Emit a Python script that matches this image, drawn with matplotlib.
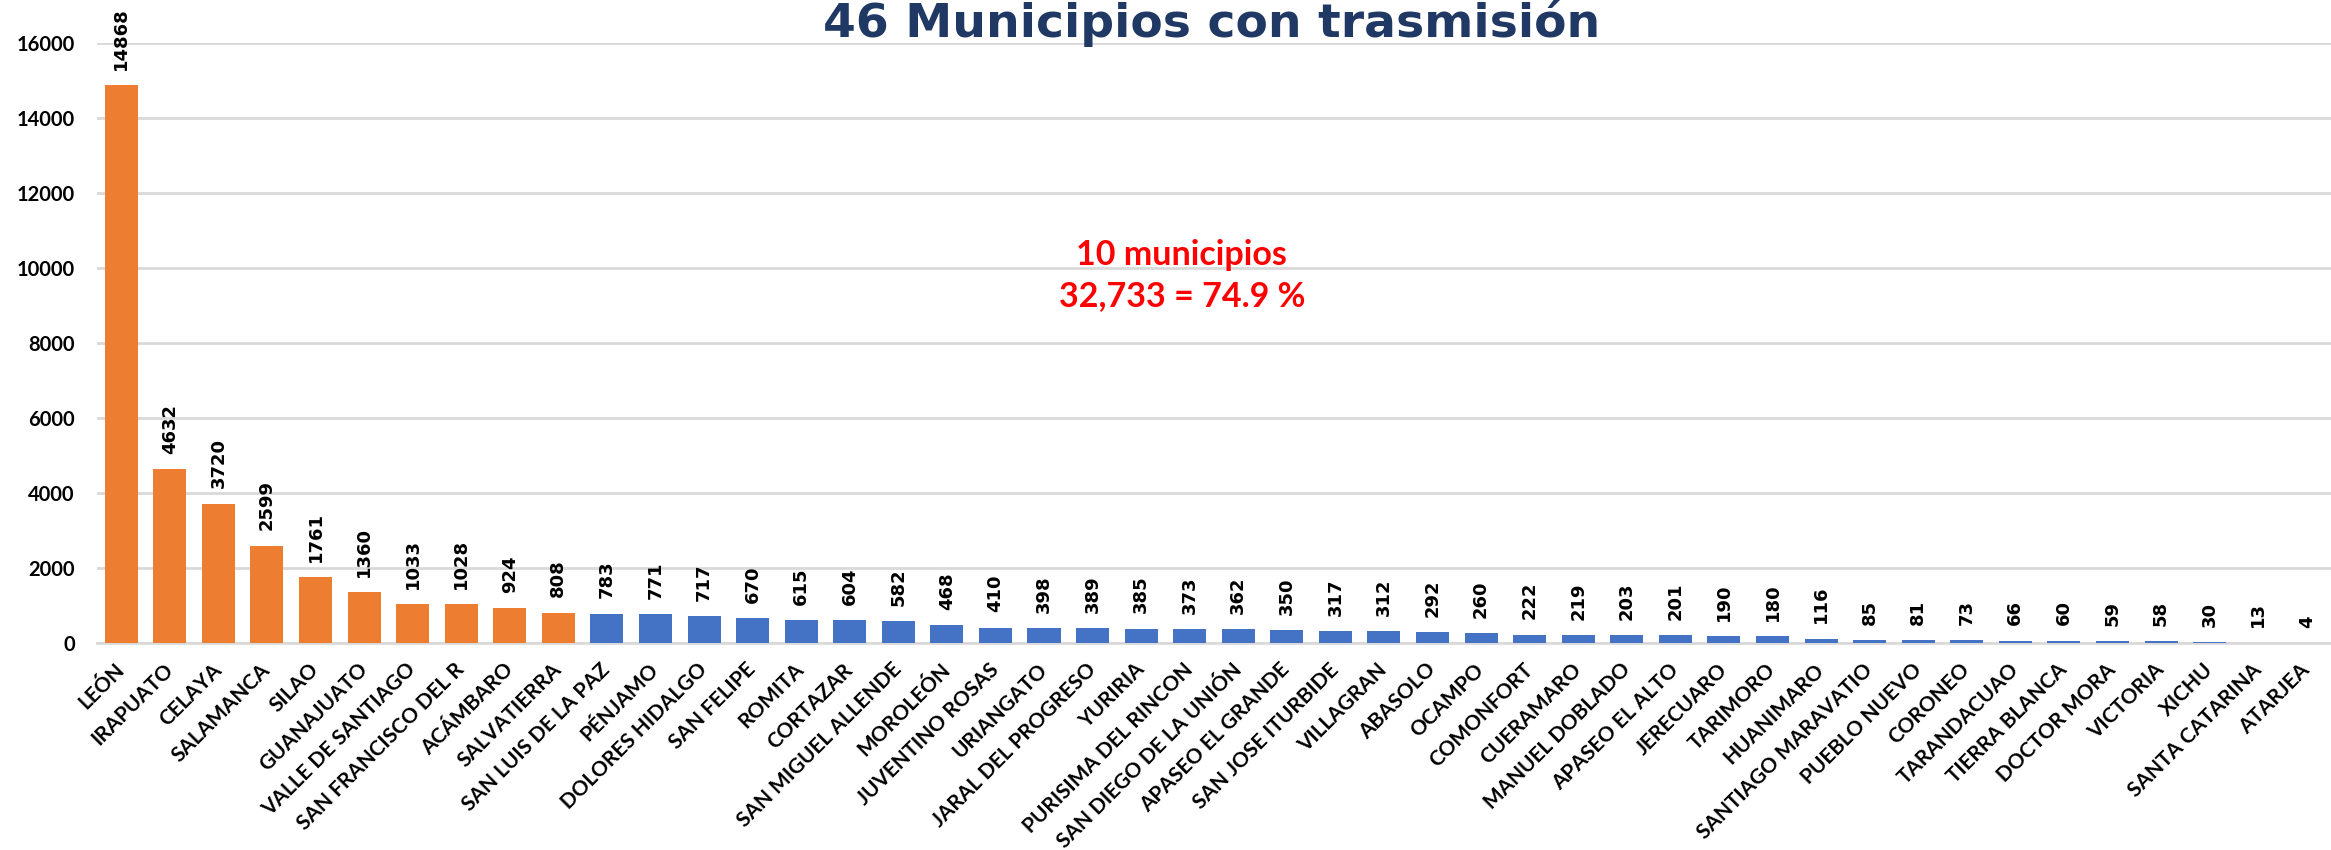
import matplotlib
matplotlib.use("Agg")
import matplotlib.pyplot as plt

municipios = ["LEÓN", "IRAPUATO", "CELAYA", "SALAMANCA", "SILAO", "GUANAJUATO",
              "VALLE DE SANTIAGO", "SAN FRANCISCO DEL R", "ACÁMBARO", "SALVATIERRA",
              "SAN LUIS DE LA PAZ", "PÉNJAMO", "DOLORES HIDALGO", "SAN FELIPE", "ROMITA",
              "CORTAZAR", "SAN MIGUEL ALLENDE", "MOROLEÓN", "JUVENTINO ROSAS", "URIANGATO",
              "JARAL DEL PROGRESO", "YURIRIA", "PURISIMA DEL RINCON", "SAN DIEGO DE LA UNIÓN",
              "APASEO EL GRANDE", "SAN JOSE ITURBIDE", "VILLAGRAN", "ABASOLO", "OCAMPO",
              "COMONFORT", "CUERAMARO", "MANUEL DOBLADO", "APASEO EL ALTO", "JERECUARO",
              "TARIMORO", "HUANIMARO", "SANTIAGO MARAVATIO", "PUEBLO NUEVO", "CORONEO",
              "TARANDACUAO", "TIERRA BLANCA", "DOCTOR MORA", "VICTORIA", "XICHU",
              "SANTA CATARINA", "ATARJEA"]
casos = [14868, 4632, 3720, 2599, 1761, 1360, 1033, 1028, 924, 808,
         783, 771, 717, 670, 615, 604, 582, 468, 410, 398,
         389, 385, 373, 362, 350, 317, 312, 292, 260, 222,
         219, 203, 201, 190, 180, 116, 85, 81, 73, 66,
         60, 59, 58, 30, 13, 4]
n_top = 10  # primeros 10 municipios en naranja
y_ticks = [0, 2000, 4000, 6000, 8000, 10000, 12000, 14000, 16000]

naranja = "#ED7D31"
azul = "#4472C4"
colores = [naranja if i < n_top else azul for i in range(len(casos))]

fig = plt.figure(figsize=(23.31, 8.5), dpi=100)
ax = fig.add_axes([0.0416, 0.2435, 0.9584, 0.7059])

x = list(range(len(casos)))
ax.bar(x, casos, width=0.68, color=colores, zorder=3)

# etiquetas de valor verticales
for xi, v in zip(x, casos):
    ax.annotate(str(v), (xi, v), xytext=(0, 11), textcoords="offset points",
                rotation=90, ha="center", va="bottom", fontsize=13,
                fontweight="bold", family="DejaVu Sans", color="black")

ax.set_xlim(-0.5, 45.5)
ax.set_ylim(0, 16000)
ax.set_yticks(y_ticks)
ax.set_yticklabels([str(t) for t in y_ticks], fontsize=14.5, fontweight="bold",
                   family="Lato")
ax.set_xticks(x)
ax.set_xticklabels(municipios, rotation=45, ha="right", va="center",
                   rotation_mode="anchor", fontsize=15, fontweight="bold", family="Lato")
ax.tick_params(axis="both", length=0)
ax.tick_params(axis="y", pad=16)
ax.tick_params(axis="x", pad=17)

ax.yaxis.grid(True, color="#D9D9D9", linewidth=2, zorder=0)
for s in ["top", "right", "left"]:
    ax.spines[s].set_visible(False)
ax.spines["bottom"].set_color("#D9D9D9")
ax.spines["bottom"].set_linewidth(2)

fig.text(0.507, 0.676, "10 municipios\n32,733 = 74.9 %", ha="center", va="center",
         color="#FF0000", fontsize=24.5, fontweight="bold", family="Lato",
         linespacing=1.35)

fig.text(0.52, 0.956, "46 Municipios con trasmisión", ha="center", va="baseline",
         fontsize=34, fontweight="bold", color="#1F3864", family="DejaVu Sans")

fig.savefig("out.png", dpi=100)
